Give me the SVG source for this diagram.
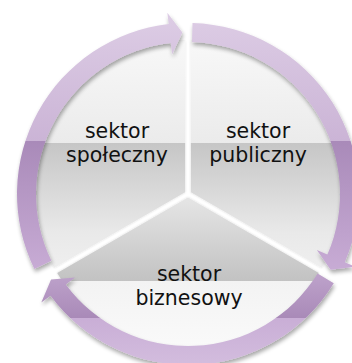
<svg xmlns="http://www.w3.org/2000/svg" width="352" height="363" viewBox="0 0 352 363">
  <defs>
    <linearGradient id="gPieTop" gradientUnits="userSpaceOnUse" x1="0" y1="41" x2="0" y2="271">
      <stop offset="0" stop-color="#f8f8f8"/>
      <stop offset="0.452" stop-color="#ebebeb"/>
      <stop offset="0.452" stop-color="#c6c6c6"/>
      <stop offset="0.84" stop-color="#e9e9e9"/>
      <stop offset="1" stop-color="#efefef"/>
    </linearGradient>
    <linearGradient id="gPieBot" gradientUnits="userSpaceOnUse" x1="0" y1="197" x2="0" y2="347">
      <stop offset="0" stop-color="#e4e4e4"/>
      <stop offset="0.54" stop-color="#c2c2c2"/>
      <stop offset="0.54" stop-color="#f3f3f3"/>
      <stop offset="1" stop-color="#fafafa"/>
    </linearGradient>
    <linearGradient id="gArrLR" gradientUnits="userSpaceOnUse" x1="0" y1="12" x2="0" y2="276">
      <stop offset="0" stop-color="#ddcde5"/>
      <stop offset="0.489" stop-color="#cbb4d6"/>
      <stop offset="0.489" stop-color="#a98ab9"/>
      <stop offset="1" stop-color="#c9add6"/>
    </linearGradient>
    <linearGradient id="gArrB" gradientUnits="userSpaceOnUse" x1="0" y1="250" x2="0" y2="366">
      <stop offset="0" stop-color="#c9afd5"/>
      <stop offset="0.586" stop-color="#a98ab8"/>
      <stop offset="0.586" stop-color="#c9aed6"/>
      <stop offset="1" stop-color="#d3bdde"/>
    </linearGradient>
    <filter id="shadow" x="-10%" y="-10%" width="130%" height="130%">
      <feGaussianBlur in="SourceAlpha" stdDeviation="2"/>
      <feOffset dx="1" dy="2.5" result="b"/>
      <feComponentTransfer><feFuncA type="linear" slope="0.35"/></feComponentTransfer>
      <feMerge><feMergeNode/><feMergeNode in="SourceGraphic"/></feMerge>
    </filter>
    <filter id="pieShadow" x="-10%" y="-10%" width="120%" height="120%">
      <feGaussianBlur in="SourceAlpha" stdDeviation="1.2"/>
      <feComponentTransfer><feFuncA type="linear" slope="0.18"/></feComponentTransfer>
      <feMerge><feMergeNode/><feMergeNode in="SourceGraphic"/></feMerge>
    </filter>
    <style>
      .lbl { font-family: "DejaVu Sans", Verdana, sans-serif; font-size: 20.5px; fill: #111111; text-anchor: middle; }
    </style>
  </defs>
  <rect width="352" height="363" fill="#ffffff"/>

  <g id="node-spoleczny">
    <path d="M188,194 L188,43 A151,151 0 0 0 57.2,269.5 Z" transform="translate(-2.9,-1.7)" fill="url(#gPieTop)" filter="url(#pieShadow)"/>
    <text class="lbl" x="117" y="138">sektor</text>
    <text class="lbl" x="117" y="162">społeczny</text>
  </g>

  <g id="node-publiczny">
    <path d="M188,194 L188,43 A151,151 0 0 1 318.8,269.5 Z" transform="translate(2.9,-1.7)" fill="url(#gPieTop)" filter="url(#pieShadow)"/>
    <text class="lbl" x="258" y="138">sektor</text>
    <text class="lbl" x="258" y="162">publiczny</text>
  </g>

  <g id="node-biznesowy">
    <path d="M188,194 L318.8,269.5 A151,151 0 0 1 57.2,269.5 Z" transform="translate(0,3.4)" fill="url(#gPieBot)" filter="url(#pieShadow)"/>
    <text class="lbl" x="189" y="281">sektor</text>
    <text class="lbl" x="189" y="305">biznesowy</text>
  </g>

  <g id="connectors">
    <path d="M192.48,23.06 A171,171 0 0 1 344.82,262.19 L355.36,266.77 L330.60,269.82 L316.85,250.02 L327.39,254.61 A152,152 0 0 0 191.98,42.05 Z" fill="url(#gArrLR)" filter="url(#shadow)"/>
    <path d="M333.80,283.35 A171,171 0 0 1 50.54,295.71 L41.30,302.55 L51.04,279.58 L75.06,277.57 L65.81,284.41 A152,152 0 0 0 317.60,273.42 Z" fill="url(#gArrB)" filter="url(#shadow)"/>
    <path d="M34.31,268.96 A171,171 0 0 1 168.64,24.10 L167.34,12.67 L182.36,32.60 L172.10,54.40 L170.79,42.98 A152,152 0 0 0 51.38,260.63 Z" fill="url(#gArrLR)" filter="url(#shadow)"/>
  </g>
</svg>
